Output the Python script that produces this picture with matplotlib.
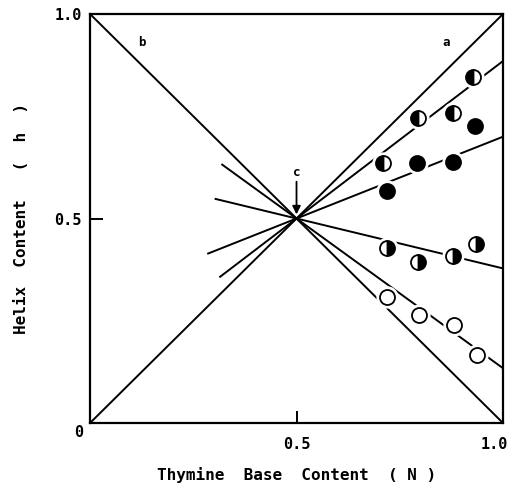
import matplotlib
matplotlib.use("Agg")
import matplotlib.pyplot as plt
import matplotlib.transforms as mtransforms
import numpy as np

# Measured points (thymine fraction N, helix fraction h)
n_half_left = [0.710, 0.793, 0.880, 0.928]
h_half_left = [0.635, 0.745, 0.757, 0.845]

n_filled = [0.718, 0.791, 0.880, 0.932]
h_filled = [0.568, 0.635, 0.639, 0.726]

n_half_right = [0.718, 0.795, 0.880, 0.935]
h_half_right = [0.427, 0.394, 0.408, 0.437]

n_open = [0.718, 0.797, 0.882, 0.936]
h_open = [0.307, 0.264, 0.240, 0.166]

# Fitted lines through the crossover point c = (0.5, 0.5)
fit_start_n = [0.315, 0.286, 0.304, 0.320]
fit_end_h = [0.885, 0.700, 0.378, 0.134]

INK = "black"
FONT = "DejaVu Sans Mono"
LW = 1.4

fig = plt.figure(figsize=(5.15, 4.86), dpi=100, facecolor="white")
ax = fig.add_axes([0.1748, 0.1296, 0.8019, 0.8416])

# limiting diagonals a and b
ax.plot([0, 1], [0, 1], color=INK, lw=LW, zorder=2)
ax.plot([0, 1], [1, 0], color=INK, lw=LW, zorder=2)

for x0, h1 in zip(fit_start_n, fit_end_h):
    slope = (h1 - 0.5) / 0.5
    xs = np.array([x0, 1.0])
    ax.plot(xs, 0.5 + slope * (xs - 0.5), color=INK, lw=LW, zorder=2)

groups = [
    (n_half_left, h_half_left, dict(fillstyle="left", markerfacecolor=INK,
                                     markerfacecoloralt="white")),
    (n_filled, h_filled, dict(fillstyle="full", markerfacecolor=INK)),
    (n_half_right, h_half_right, dict(fillstyle="right", markerfacecolor=INK,
                                       markerfacecoloralt="white")),
    (n_open, h_open, dict(fillstyle="full", markerfacecolor="white")),
]
for xs, ys, style in groups:
    # white halo breaks the line around each symbol
    ax.plot(xs, ys, ls="none", marker="o", ms=15, mfc="white",
            mec="white", zorder=3)
    ax.plot(xs, ys, ls="none", marker="o", ms=10.8, mec=INK, mew=1.3,
            zorder=4, **style)

ax.set_xlim(0, 1)
ax.set_ylim(0, 1)
for sp in ax.spines.values():
    sp.set_linewidth(1.6)

ax.set_xticks([0, 0.5, 1.0])
ax.set_xticklabels(["", "0.5", "1.0"])
ax.set_yticks([0, 0.5, 1.0])
ax.set_yticklabels(["", "0.5", "1.0"])
ax.tick_params(axis="x", direction="in", length=9, width=1.4, pad=10,
               labelsize=11)
ax.tick_params(axis="y", direction="in", length=9, width=1.4, pad=6,
               labelsize=11)
for lab in ax.get_xticklabels() + ax.get_yticklabels():
    lab.set_fontfamily(FONT)
    lab.set_fontweight("bold")

# pull the last x label back inside the figure edge
last = ax.get_xticklabels()[-1]
last.set_transform(last.get_transform() +
                   mtransforms.ScaledTranslation(-6 / 72, 0, fig.dpi_scale_trans))

ax.text(-0.027, -0.022, "0", ha="center", va="center", fontsize=11,
        family=FONT, fontweight="bold", clip_on=False)

ax.text(0.862, 0.930, "a", ha="center", va="center", fontsize=9,
        family=FONT, fontweight="bold")
ax.text(0.125, 0.930, "b", ha="center", va="center", fontsize=9,
        family=FONT, fontweight="bold")
ax.text(0.5, 0.612, "c", ha="center", va="center", fontsize=9,
        family=FONT, fontweight="bold")
ax.annotate("", xy=(0.5, 0.510), xytext=(0.5, 0.590),
            arrowprops=dict(arrowstyle="-|>", color=INK, lw=1.3,
                            mutation_scale=12, shrinkA=0, shrinkB=0))

ax.set_xlabel("Thymine  Base  Content  ( N )", family=FONT,
              fontweight="bold", fontsize=11.5, labelpad=11)
ax.set_ylabel("Helix  Content   (  h  )", family=FONT,
              fontweight="bold", fontsize=11.5, labelpad=18)

fig.savefig("out.png", dpi=100, facecolor="white")
